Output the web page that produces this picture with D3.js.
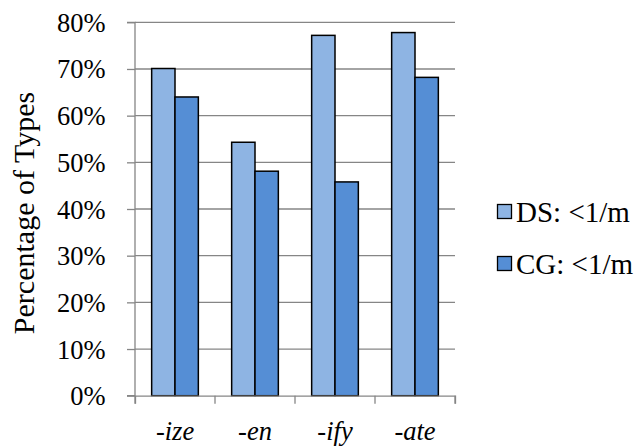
<!DOCTYPE html>
<html>
<head>
<meta charset="utf-8">
<script src="https://cdn.jsdelivr.net/npm/d3@7"></script>
<style>
  html, body { margin: 0; padding: 0; background: #fff; }
  svg text { font-family: "Liberation Serif", "Times New Roman", serif; fill: #000; }
</style>
</head>
<body>
<svg id="chart" width="638" height="447"></svg>
<script>
const categories = ["-ize", "-en", "-ify", "-ate"];
const seriesNames = ["DS: <1/m", "CG: <1/m"];
const dsValues = [0.701, 0.543, 0.772, 0.778];
const cgValues = [0.640, 0.481, 0.458, 0.682];
const yTicks = [0, 0.1, 0.2, 0.3, 0.4, 0.5, 0.6, 0.7, 0.8];
const colors = ["#8EB4E3", "#558ED5"];

const FONT = "'Liberation Serif', 'Times New Roman', serif";
const svg = d3.select("#chart");
const pLeft = 135, pRight = 455, pTop = 22.3, pBottom = 395.7;

const x = d3.scaleBand().domain(categories).range([pLeft, pRight]).paddingInner(0).paddingOuter(0);
const y = d3.scaleLinear().domain([0, 0.8]).range([pBottom, pTop]);
const barW = x.bandwidth() * 0.2917;
const xs = d3.scaleBand().domain([0, 1]).range([0, barW * 2]);

// gridlines
svg.append("g").selectAll("line").data(yTicks.filter(d => d > 0)).join("line")
  .attr("x1", pLeft).attr("x2", pRight)
  .attr("y1", d => y(d)).attr("y2", d => y(d))
  .attr("stroke", "#868686").attr("stroke-width", 1.3);

// bars
const series = [dsValues, cgValues];
const g = svg.append("g");
categories.forEach((c, i) => {
  const x0 = x(c) + (x.bandwidth() - barW * 2) / 2;
  series.forEach((vals, s) => {
    g.append("rect")
      .attr("x", x0 + xs(s))
      .attr("y", y(vals[i]))
      .attr("width", barW)
      .attr("height", pBottom - y(vals[i]))
      .attr("fill", colors[s])
      .attr("stroke", "#000").attr("stroke-width", 1.5);
  });
});

// y axis
const yAxis = d3.axisLeft(y).tickValues(yTicks).tickFormat(d3.format(".0%")).tickSize(8).tickPadding(20);
const ya = svg.append("g").attr("transform", `translate(${pLeft},0)`).call(yAxis)
  .attr("font-family", FONT).attr("font-size", 26.5);
ya.select(".domain").attr("stroke", "#868686").attr("stroke-width", 1.3).attr("d", `M-8,${pTop}H0V${pBottom}H-8`);
ya.selectAll(".tick line").attr("stroke", "#868686").attr("stroke-width", 1.3);
ya.selectAll(".tick text").attr("dy", "0.34em").attr("x", -29.5);

// x axis
const xAxis = d3.axisBottom(x).tickSize(8).tickFormat(d => d).tickSizeOuter(8);
const xa = svg.append("g").attr("transform", `translate(0,${pBottom})`).call(xAxis)
  .attr("font-family", FONT).attr("font-size", 26.5);
xa.select(".domain").attr("stroke", "#868686").attr("stroke-width", 1.3);
xa.selectAll(".tick line").remove();
xa.selectAll(".tick text").attr("font-style", "italic").attr("y", 44.5).attr("dy", "0");
// category boundary ticks
xa.append("g").selectAll("line").data(categories.map(c => x(c)).concat([pRight])).join("line")
  .attr("x1", d => d).attr("x2", d => d).attr("y1", 0).attr("y2", 8)
  .attr("stroke", "#868686").attr("stroke-width", 1.3);

// y title
svg.append("text")
  .attr("transform", `translate(34,213) rotate(-90)`)
  .attr("text-anchor", "middle")
  .attr("font-family", FONT)
  .attr("font-size", 30)
  .text("Percentage of Types");

// legend
const leg = svg.append("g").attr("font-family", FONT);
seriesNames.forEach((n, i) => {
  const yy = 212 + i * 52;
  leg.append("rect").attr("x", 497.5).attr("y", yy - 7.5).attr("width", 14).attr("height", 14)
    .attr("fill", colors[i]).attr("stroke", "#000").attr("stroke-width", 1.3);
  leg.append("text").attr("x", 516).attr("y", yy + 10).attr("font-size", 29).text(n);
});
</script>
</body>
</html>
